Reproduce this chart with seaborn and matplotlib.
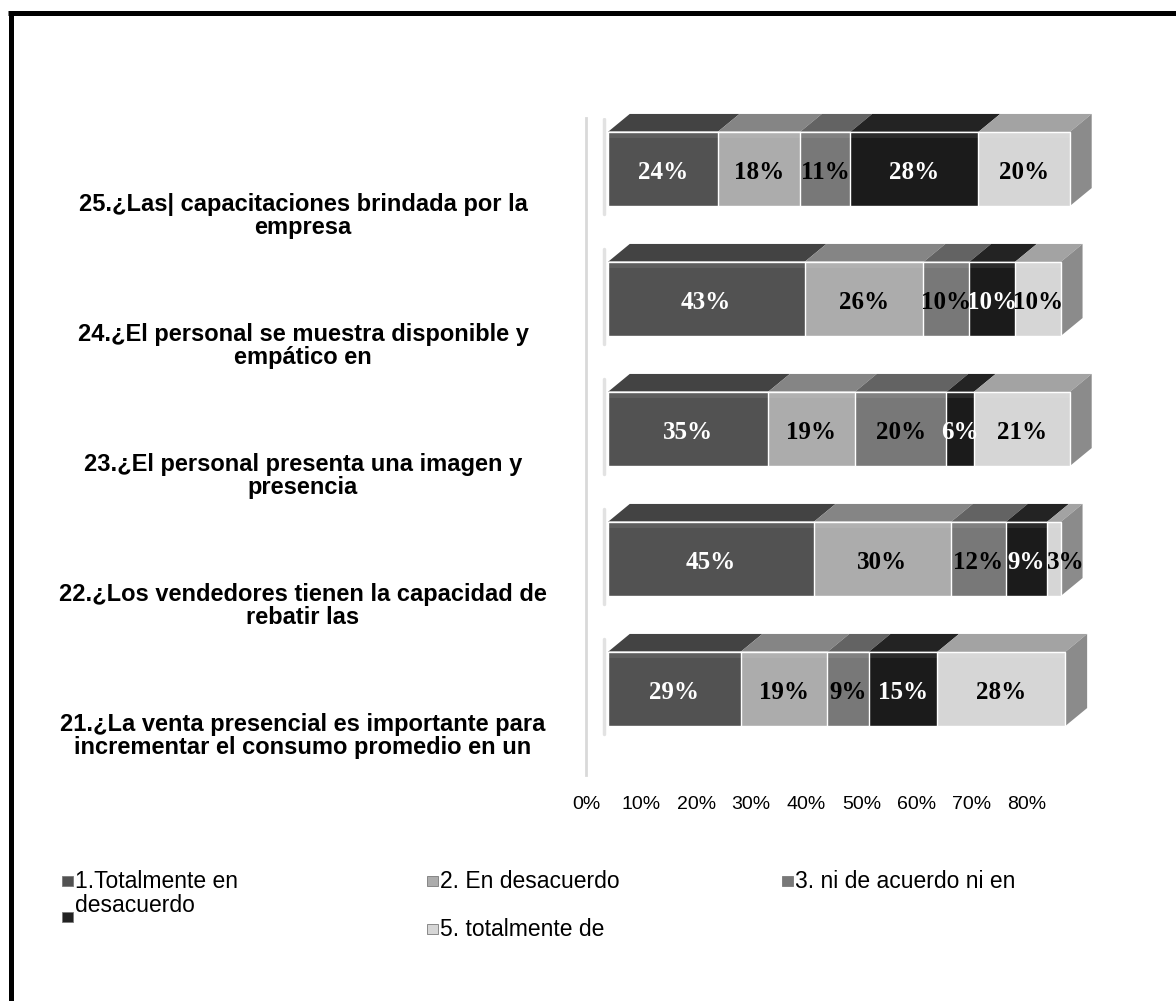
import numpy as np
import matplotlib
matplotlib.use("Agg")
import matplotlib.pyplot as plt
import seaborn as sns
from matplotlib.patches import Polygon, Rectangle
from matplotlib.lines import Line2D
import matplotlib.transforms as mtransforms

# ---- data -------------------------------------------------------------
questions = [
    "25.¿Las| capacitaciones brindada por la\nempresa",
    "24.¿El personal se muestra disponible y\nempático en",
    "23.¿El personal presenta una imagen y\npresencia",
    "22.¿Los vendedores tienen la capacidad de\nrebatir las",
    "21.¿La venta presencial es importante para\nincrementar el consumo promedio en un",
]
totalmente_desacuerdo = [24, 43, 35, 45, 29]
en_desacuerdo = [18, 26, 19, 30, 19]
ni_acuerdo_ni_desacuerdo = [11, 10, 20, 12, 9]
de_acuerdo = [28, 10, 6, 9, 15]
totalmente_de_acuerdo = [20, 10, 21, 3, 28]

legend_labels = ["1.Totalmente en\ndesacuerdo", "2. En desacuerdo",
                 "3. ni de acuerdo ni en", "", "5. totalmente de"]
tick_labels = ["0%", "10%", "20%", "30%", "40%", "50%", "60%", "70%", "80%"]

# ---- styling ------------------------------------------------------------
front_colors = ["#525252", "#acacac", "#787878", "#1b1b1b", "#d6d6d6"]
top_colors = ["#434343", "#858585", "#636363", "#232323", "#a3a3a3"]
text_colors = ["white", "black", "black", "white", "black"]
side_color = "#8b8b8b"

sns.set_style("white")
plt.rcParams["font.family"] = ["Liberation Sans", "DejaVu Sans"]
plt.rcParams["text.color"] = "black"
plt.rcParams["xtick.color"] = "black"
plt.rcParams["ytick.color"] = "black"

W, H = 1176, 1001
fig = plt.figure(figsize=(W / 100, H / 100), dpi=100)
fig.patch.set_facecolor("white")


def fx(px):
    return px / W


def fy(py):
    return 1 - py / H


ax = fig.add_axes([fx(586), fy(775), fx(1110) - fx(586), fy(118) - fy(775)])

series = np.array([totalmente_desacuerdo, en_desacuerdo, ni_acuerdo_ni_desacuerdo,
                   de_acuerdo, totalmente_de_acuerdo], dtype=float)
ends = np.cumsum(series, axis=0)
starts = ends - series

bar_w = 0.57
# stacked bars: draw the running totals from the longest down so each
# shorter total covers the beginning of the previous one
for k in range(len(series) - 1, -1, -1):
    sns.barplot(x=ends[k], y=questions, orient="h", color=front_colors[k],
                saturation=1, width=bar_w, errorbar=None, ax=ax, zorder=3)

px_per_unit = 4.6
ax.set_xlim((586 - 605) / px_per_unit, (1110 - 605) / px_per_unit)
ax.set_ylim(4 + (775 - 689) / 130, -(169 - 118) / 130)

# depth of the 3-D effect in pixels
DX, DY = 22, 18


def shifted(x, y):
    d = ax.transData.transform((x, y))
    return ax.transData.inverted().transform((d[0] + DX, d[1] + DY))


for i in range(len(questions)):
    ytop = i - bar_w / 2
    ybot = i + bar_w / 2
    for k in range(len(series)):
        x0, x1 = starts[k, i], ends[k, i]
        p0 = shifted(x0, ytop)
        p1 = shifted(x1, ytop)
        ax.add_patch(Polygon([(x0, ytop), (x1, ytop), tuple(p1), tuple(p0)],
                             closed=True, facecolor=top_colors[k],
                             edgecolor="none", zorder=2, clip_on=False))
        # soft highlight along the upper edge of the front face
        ax.add_patch(Rectangle((x0, ytop), x1 - x0, 0.05, facecolor="white",
                               alpha=0.07, edgecolor="none", zorder=4))
        val = series[k, i]
        xc = (x0 + x1) / 2
        if x1 - x0 < 5:
            # very thin slice: let the label sit just past the slice
            xc += 2.6
        ax.text(xc, i + 0.025, f"{val:.0f}%", ha="center", va="center",
                fontsize=18, fontweight="bold", color=text_colors[k],
                family=["Liberation Serif", "DejaVu Serif"], zorder=6)
    # right-hand side face of the bar
    xe = ends[-1, i]
    q0 = shifted(xe, ytop)
    q1 = shifted(xe, ybot)
    ax.add_patch(Polygon([(xe, ytop), (xe, ybot), tuple(q1), tuple(q0)], closed=True,
                         facecolor=side_color, edgecolor="none", zorder=2,
                         clip_on=False))
    # faint shadow on the left end
    ax.plot([-0.8, -0.8], [ytop - 0.1, ybot + 0.06], color="#cfcfcf", lw=2.5,
            alpha=0.6, solid_capstyle="round", zorder=1)

# axes appearance
for side in ["top", "right", "bottom"]:
    ax.spines[side].set_visible(False)
ax.spines["left"].set_color("#d9d9d9")
ax.spines["left"].set_linewidth(2)
ax.set_ylabel("")
ax.set_xlabel("")
ax.set_yticks([])
tick_pos = [(583 - 605) / px_per_unit + k * 55.4 / px_per_unit for k in range(len(tick_labels))]
ax.set_xticks(tick_pos, tick_labels)
ax.tick_params(axis="x", length=0, pad=15, labelsize=14, labelcolor="black")
ax.grid(False)

# question labels to the left of the bars
blend = mtransforms.blended_transform_factory(fig.transFigure, ax.transData)
for i, q in enumerate(questions):
    fig.text(fx(303), i + 0.36, q, transform=blend, ha="center", va="center",
             multialignment="center", fontsize=17, fontweight="bold",
             linespacing=0.98, color="black")

# legend
legend_items = [
    (62, 881, front_colors[0], legend_labels[0]),
    (427, 881, front_colors[1], legend_labels[1]),
    (782, 881, front_colors[2], legend_labels[2]),
    (62, 917, "#222222", legend_labels[3]),
    (427, 929, front_colors[4], legend_labels[4]),
]
for (mx, my, col, lab) in legend_items:
    fig.add_artist(Rectangle((fx(mx), fy(my + 5)), fx(11), 10 / H, facecolor=col,
                             edgecolor="#7a7a7a", linewidth=0.6,
                             transform=fig.transFigure))
    if lab:
        fig.text(fx(mx + 13), fy(my), lab.split("\n")[0], ha="left", va="center",
                 fontsize=16.5, color="black")
        for j, extra in enumerate(lab.split("\n")[1:], start=1):
            fig.text(fx(mx + 13), fy(my + 24 * j), extra, ha="left", va="center",
                     fontsize=16.5, color="black")

# frame along the top and left edges
fig.add_artist(Line2D([fx(10.5), fx(10.5)], [fy(12.5), 0], color="black", lw=3.6,
                      transform=fig.transFigure, solid_capstyle="butt"))
fig.add_artist(Line2D([fx(8), 1], [fy(12.5), fy(12.5)], color="black", lw=3.6,
                      transform=fig.transFigure, solid_capstyle="butt"))

fig.savefig("out.png", dpi=100)
